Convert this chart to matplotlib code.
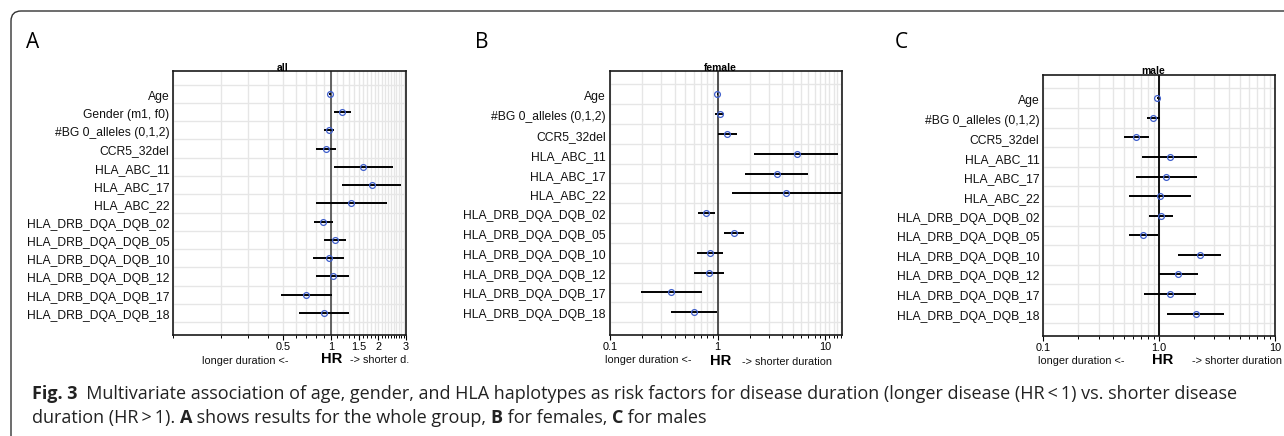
import numpy as np
import matplotlib.pyplot as plt
from matplotlib.patches import FancyBboxPatch
from matplotlib.ticker import FixedLocator, NullFormatter
from matplotlib.transforms import IdentityTransform, ScaledTranslation

W, H = 1284, 436
plt.rcParams['font.family'] = ['Liberation Sans', 'DejaVu Sans']

# data (hazard ratios with 95% CI)
labels_all = ['Age', 'Gender (m1, f0)', '#BG 0_alleles (0,1,2)', 'CCR5_32del',
              'HLA_ABC_11', 'HLA_ABC_17', 'HLA_ABC_22',
              'HLA_DRB_DQA_DQB_02', 'HLA_DRB_DQA_DQB_05', 'HLA_DRB_DQA_DQB_10',
              'HLA_DRB_DQA_DQB_12', 'HLA_DRB_DQA_DQB_17', 'HLA_DRB_DQA_DQB_18']
hr_all = [0.99, 1.17, 0.98, 0.925, 1.60, 1.82, 1.34, 0.89, 1.065, 0.97, 1.025, 0.70, 0.90]
lo_all = [0.98, 1.04, 0.91, 0.80, 1.04, 1.18, 0.80, 0.78, 0.90, 0.77, 0.805, 0.486, 0.627]
hi_all = [1.00, 1.335, 1.05, 1.08, 2.47, 2.79, 2.28, 1.03, 1.247, 1.217, 1.297, 1.024, 1.297]

labels_sex = ['Age', '#BG 0_alleles (0,1,2)', 'CCR5_32del',
              'HLA_ABC_11', 'HLA_ABC_17', 'HLA_ABC_22',
              'HLA_DRB_DQA_DQB_02', 'HLA_DRB_DQA_DQB_05', 'HLA_DRB_DQA_DQB_10',
              'HLA_DRB_DQA_DQB_12', 'HLA_DRB_DQA_DQB_17', 'HLA_DRB_DQA_DQB_18']
hr_f = [0.99, 1.05, 1.23, 5.45, 3.57, 4.33, 0.79, 1.43, 0.86, 0.836, 0.373, 0.61]
lo_f = [0.98, 0.95, 1.00, 2.20, 1.82, 1.35, 0.66, 1.154, 0.647, 0.606, 0.195, 0.373]
hi_f = [1.00, 1.146, 1.525, 13.3, 7.0, 16.0, 0.95, 1.77, 1.137, 1.154, 0.71, 0.99]

hr_m = [0.967, 0.887, 0.637, 1.236, 1.14, 1.02, 1.034, 0.732, 2.23, 1.46, 1.245, 2.07]
lo_m = [0.96, 0.793, 0.502, 0.718, 0.625, 0.551, 0.825, 0.551, 1.45, 1.00, 0.747, 1.18]
hi_m = [0.975, 1.01, 0.82, 2.14, 2.12, 1.876, 1.31, 0.987, 3.45, 2.17, 2.07, 3.64]

ticks_all = [0.5, 1, 1.5, 2, 3]
ticklab_all = ['0.5', '1', '1.5', '2', '3']
ticks_f = [0.1, 1, 10]
ticklab_f = ['0.1', '1', '10']
ticks_m = [0.1, 1, 10]
ticklab_m = ['0.1', '1.0', '10']


def fx(x):
    return x / W


def fy(y):
    return 1 - y / H


fig = plt.figure(figsize=(W / 100, H / 100), dpi=100)


def panel(box, labels, hr, lo, hi, xlim, ylim, ticks, ticklabs, grid, refcol):
    l, t, r, b = box
    ax = fig.add_axes([fx(l), fy(b), (r - l) / W, (b - t) / H])
    y = np.arange(len(labels))
    ax.set_xscale('log')
    ax.set_xlim(xlim)
    ax.set_ylim(ylim)
    for g in grid:
        ax.axvline(g, color='#e6e6e6', lw=1.0, zorder=0)
    for k in range(len(labels) + 1):
        ax.axhline(k - 0.5, color='#e6e6e6', lw=1.0, zorder=0)
    ax.axvline(1, color=refcol, lw=1.3, zorder=1)
    ax.hlines(y, lo, hi, color='black', lw=1.4, zorder=2)
    ax.plot(hr, y, 'o', mfc='none', mec='#3f5fcc', ms=4.2, mew=0.9, zorder=3)

    ax.set_yticks([])
    off = ScaledTranslation(-4 / 100, -3 / 100, fig.dpi_scale_trans)
    for yi, lab in zip(y, labels):
        ax.text(0, yi, lab, transform=ax.get_yaxis_transform() + off,
                ha='right', va='center', fontsize=8.7, color='#111')

    ax.xaxis.set_major_locator(FixedLocator(ticks))
    ax.set_xticklabels(ticklabs)
    minor = [g for g in grid if min(abs(g - m) for m in ticks) > 1e-6]
    ax.xaxis.set_minor_locator(FixedLocator(minor))
    ax.xaxis.set_minor_formatter(NullFormatter())
    ax.tick_params(axis='x', which='major', length=3.5, width=0.8, pad=1.5, labelsize=7.8)
    ax.tick_params(axis='x', which='minor', length=2.5, width=0.7)
    for s in ax.spines.values():
        s.set_linewidth(1.2)
        s.set_color('#1a1a1a')
    return ax


grid_all = [round(v, 1) for v in np.arange(0.1, 3.01, 0.1)]
grid_f = [round(v, 1) for v in np.arange(0.1, 1.0, 0.1)] + list(range(1, 15))
grid_m = [round(v, 1) for v in np.arange(0.1, 1.0, 0.1)] + list(range(1, 11))

panel((173.3, 71, 406, 335), labels_all, hr_all, lo_all, hi_all,
      (0.1, 3), (13.2, -1.24), ticks_all, ticklab_all, grid_all, '#555555')
panel((610, 71, 841.7, 335), labels_sex, hr_f, lo_f, hi_f,
      (0.1, 14.3), (12.15, -1.18), ticks_f, ticklab_f, grid_f, '#444444')
panel((1043.3, 75.3, 1275, 336), labels_sex, hr_m, lo_m, hi_m,
      (0.1, 10), (12.14, -1.17), ticks_m, ticklab_m, grid_m, '#000000')

# panel titles
for x, y, s in [(283, 68, 'all'), (720, 68, 'female'), (1153, 71, 'male')]:
    fig.text(fx(x), fy(y), s, ha='center', va='center', fontsize=7.5, fontweight='bold')

# axis annotations
ann = [(288, 361, 'longer duration <-', 'right'), (350, 360, '-> shorter d.', 'left'),
       (691.7, 360, 'longer duration <-', 'right'), (741.7, 362, '-> shorter duration', 'left'),
       (1125, 361, 'longer duration <-', 'right'), (1191.7, 361, '-> shorter duration', 'left')]
for x, y, s, ha in ann:
    fig.text(fx(x), fy(y), s, ha=ha, va='center', fontsize=7.8, color='#111')
for x, y in [(332, 359), (721, 361), (1163, 360)]:
    fig.text(fx(x), fy(y), 'HR', ha='center', va='center', fontsize=10.6, fontweight='bold')

# panel letters
for x, s in [(26, 'A'), (475, 'B'), (895, 'C')]:
    fig.text(fx(x), fy(48), s, ha='left', va='baseline', fontsize=15, family='Open Sans')

# frame
frame = FancyBboxPatch((11, -20), W + 20, H - 11 + 20,
                       boxstyle='round,pad=0,rounding_size=10', fill=False,
                       ec='#333333', lw=1.0, transform=IdentityTransform())
fig.add_artist(frame)

# caption with bold parts
cap1 = [('Fig. 3', 'bold'), ('  Multivariate association of age, gender, and HLA haplotypes as risk factors '
                             'for disease duration (longer disease (HR\u2009<\u20091) vs. shorter disease', 'normal')]
cap2 = [('duration (HR\u2009>\u20091). ', 'normal'), ('A', 'bold'), (' shows results for the whole group, ', 'normal'),
        ('B', 'bold'), (' for females, ', 'normal'), ('C', 'bold'), (' for males', 'normal')]
renderer = fig.canvas.get_renderer()
for segs, ybase in [(cap1, 399), (cap2, 423)]:
    x = 31.7
    for s, wgt in segs:
        t = fig.text(fx(x), fy(ybase), s, ha='left', va='baseline', fontsize=12.95,
                     fontweight=wgt, family=['Open Sans', 'DejaVu Sans'], color='#222')
        x += t.get_window_extent(renderer).width

fig.savefig('out.png', dpi=100)
